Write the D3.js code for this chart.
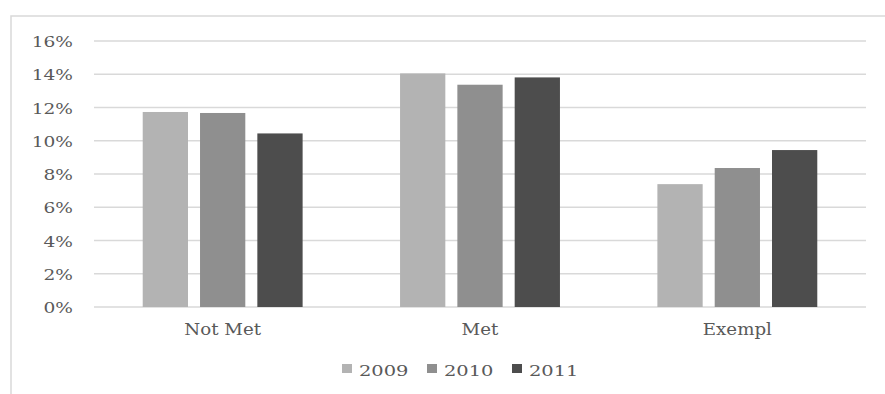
<!DOCTYPE html>
<html>
<head>
<meta charset="utf-8">
<script src="https://cdn.jsdelivr.net/npm/d3@7"></script>
<style>
  html, body { margin: 0; padding: 0; background: #fff; }
  svg { display: block; }
  text { font-family: "DejaVu Serif", "Liberation Serif", serif; fill: #595959; }
</style>
</head>
<body>
<svg id="chart" width="885" height="394"></svg>
<script>
// Share of students per rating, by year
const categories = ["Not Met", "Met", "Exempl"];
const years = ["2009", "2010", "2011"];
const values2009 = [11.73, 14.05, 7.39];
const values2010 = [11.67, 13.37, 8.36];
const values2011 = [10.44, 13.81, 9.44];
const yTicks = [0, 2, 4, 6, 8, 10, 12, 14, 16];
const colors = ["#b3b3b3", "#8f8f8f", "#4d4d4d"];

const seriesByYear = { "2009": values2009, "2010": values2010, "2011": values2011 };

const svg = d3.select("#chart");
const plot = { left: 94, right: 866, top: 41, bottom: 307 };
const textStretch = 1.2;

// chart frame (left and top edges visible)
svg.append("rect")
  .attr("x", 11).attr("y", 16)
  .attr("width", 900).attr("height", 400)
  .attr("fill", "none").attr("stroke", "#d9d9d9").attr("stroke-width", 1.5);

const y = d3.scaleLinear().domain([0, 16]).range([plot.bottom, plot.top]);
const x0 = d3.scaleBand().domain(categories).range([plot.left, plot.right]).padding(0);
const x1 = d3.scaleBand().domain(years).range([0, x0.bandwidth()])
  .paddingInner(0.21).paddingOuter(0.85);
const color = d3.scaleOrdinal().domain(years).range(colors);

// horizontal gridlines
svg.append("g").selectAll("line").data(yTicks).join("line")
  .attr("x1", plot.left).attr("x2", plot.right)
  .attr("y1", d => y(d)).attr("y2", d => y(d))
  .attr("stroke", "#d9d9d9").attr("stroke-width", 1.6);

// y tick labels
svg.append("g").selectAll("text").data(yTicks).join("text")
  .attr("transform", d => `translate(73,${y(d) + 6}) scale(${textStretch},1)`)
  .attr("text-anchor", "end")
  .attr("font-size", 15.5)
  .text(d => d3.format("d")(d) + "%");

// bars
const groups = svg.append("g").selectAll("g").data(categories).join("g")
  .attr("transform", c => `translate(${x0(c)},0)`);
groups.selectAll("rect")
  .data((c, i) => years.map(yr => ({ year: yr, value: seriesByYear[yr][i] })))
  .join("rect")
  .attr("x", d => x1(d.year))
  .attr("width", x1.bandwidth())
  .attr("y", d => y(d.value))
  .attr("height", d => y(0) - y(d.value))
  .attr("fill", d => color(d.year));

// category labels
svg.append("g").selectAll("text").data(categories).join("text")
  .attr("transform", c => `translate(${x0(c) + x0.bandwidth() / 2},335) scale(${textStretch * 0.95},1)`)
  .attr("text-anchor", "middle")
  .attr("font-size", 16)
  .text(c => c);

// legend
const legendX = [342, 427, 512];
const legend = svg.append("g").selectAll("g").data(years).join("g")
  .attr("transform", (yr, i) => `translate(${legendX[i]},0)`);
legend.append("rect")
  .attr("x", 0).attr("y", 364).attr("width", 10).attr("height", 9)
  .attr("fill", d => color(d));
legend.append("text")
  .attr("transform", `translate(17,375.5) scale(${textStretch * 1.08},1)`)
  .attr("font-size", 15)
  .text(d => d);
</script>
</body>
</html>
